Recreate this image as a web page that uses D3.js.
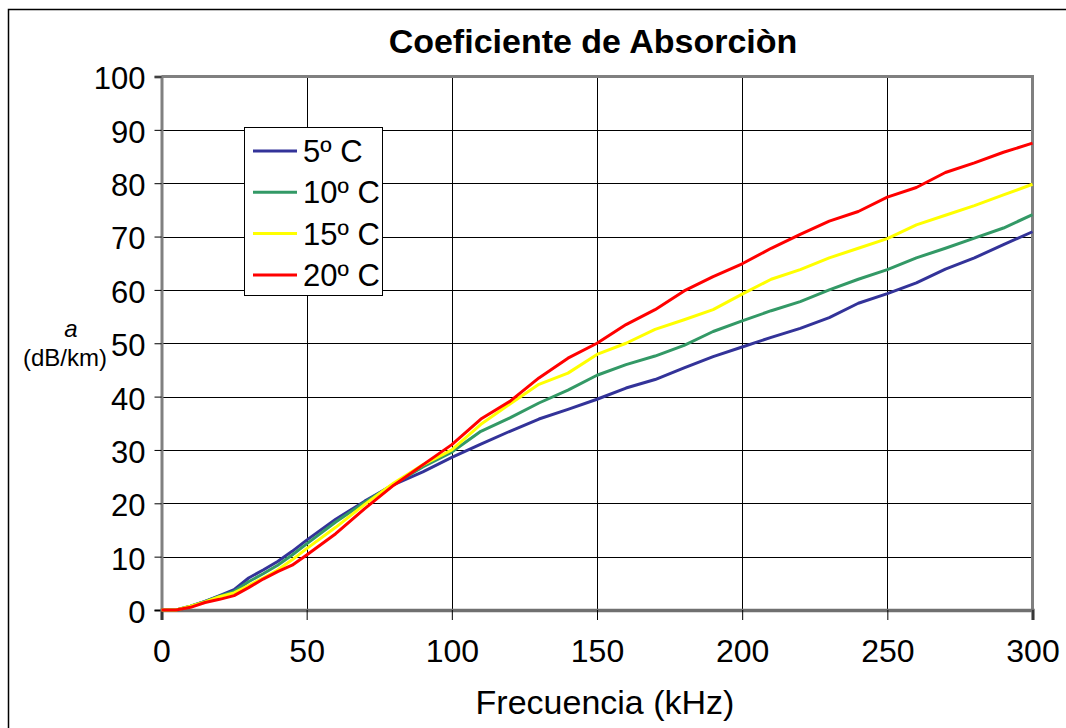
<!DOCTYPE html>
<html><head><meta charset="utf-8">
<script src="https://cdn.jsdelivr.net/npm/d3@7"></script>
<style>body{margin:0;background:#fff}svg{display:block}text{font-family:"Liberation Sans",Arial,sans-serif}</style>
</head><body>
<svg id="c" width="1066" height="728"></svg>
<script>
const freq   = [0,5,10,15,20,25,30,35,40,45,50,60,70,80,90,100,110,120,130,140,150,160,170,180,190,200,210,220,230,240,250,260,270,280,290,300];
const t5C    = [0,0,0.7,1.6,2.7,3.8,6.0,7.5,9.1,11.0,13.1,17.0,20.4,23.5,25.9,28.6,31.1,33.5,35.8,37.6,39.5,41.6,43.2,45.4,47.5,49.3,51.1,52.8,54.8,57.5,59.3,61.3,63.9,66.0,68.5,70.9];
const t10C   = [0,0,0.7,1.6,2.6,3.5,5.3,6.8,8.4,10.3,12.4,16.5,20.2,23.6,26.8,29.6,33.5,36.0,38.8,41.2,44.0,46.0,47.6,49.6,52.2,54.2,56.1,57.8,60.0,62.0,63.8,66.0,67.8,69.7,71.6,74.1];
const t15C   = [0,0,0.7,1.5,2.5,3.2,4.6,6.0,7.5,9.4,11.5,15.5,19.8,23.8,27.2,30.0,34.8,38.6,42.3,44.4,47.9,50.0,52.6,54.4,56.3,59.2,62.0,63.8,66.0,67.8,69.6,72.2,74.0,75.8,77.8,79.8];
const t20C   = [0,0,0.5,1.4,2.0,2.7,4.2,5.8,7.2,8.4,10.3,14.3,19.0,23.4,27.2,31.0,35.8,39.1,43.5,47.2,50.0,53.5,56.3,59.8,62.5,64.9,67.8,70.4,72.9,74.7,77.4,79.2,82.0,83.8,85.8,87.5];
const seriesNames = ["5º C","10º C","15º C","20º C"];
const seriesColors = ["#333399","#339966","#FFFF00","#FF0000"];
const xTicks = [0,50,100,150,200,250,300];
const yTicks = [0,10,20,30,40,50,60,70,80,90,100];

const svg = d3.select("#c");
const X0=161.5, X1=1032.5, Y0=610, Y1=76.5;
const x = d3.scaleLinear().domain([0,300]).range([X0,X1]);
const y = d3.scaleLinear().domain([0,100]).range([Y0,Y1]);

// outer border
svg.append("rect").attr("x",8.5).attr("y",9.5).attr("width",1080).attr("height",740)
  .attr("fill","#fff").attr("stroke","#000").attr("stroke-width",1.5);

// title
svg.append("text").attr("x",593).attr("y",53).attr("text-anchor","middle")
  .attr("font-size",34).attr("font-weight","bold").text("Coeficiente de Absorciòn");

// gridlines
svg.append("g").selectAll("line").data(yTicks.filter(d=>d>0)).join("line")
  .attr("x1",X0).attr("x2",X1).attr("y1",d=>Math.round(y(d))+0.5).attr("y2",d=>Math.round(y(d))+0.5)
  .attr("stroke","#000").attr("stroke-width",1);
svg.append("g").selectAll("line").data(xTicks.filter(d=>d>0&&d<300)).join("line")
  .attr("x1",d=>Math.round(x(d))+0.5).attr("x2",d=>Math.round(x(d))+0.5).attr("y1",Y1).attr("y2",Y0)
  .attr("stroke","#000").attr("stroke-width",1);

// plot border top/right
svg.append("path").attr("d",`M${X0},${Y1}H${X1}V${Y0}`).attr("fill","none")
  .attr("stroke","#808080").attr("stroke-width",3);

// axes
const yAxis = d3.axisLeft(y).tickValues(yTicks).tickSize(7).tickPadding(9);
const gy = svg.append("g").attr("transform",`translate(${X0},0)`).call(yAxis);
gy.select(".domain").attr("stroke","#808080").attr("stroke-width",3);
gy.selectAll(".tick line").attr("stroke","#000");
gy.selectAll(".tick text").attr("font-size",31).attr("fill","#000").attr("dy","0.4em")
  .attr("font-family","Liberation Sans, Arial, sans-serif");

const xAxis = d3.axisBottom(x).tickValues(xTicks).tickSize(10).tickPadding(19);
const gx = svg.append("g").attr("transform",`translate(0,${Y0})`).call(xAxis);
gx.select(".domain").attr("stroke","#707070").attr("stroke-width",3.5);
gx.selectAll(".tick line").attr("stroke","#000");
gx.selectAll(".tick text").attr("font-size",32).attr("fill","#000").attr("font-family","Liberation Sans, Arial, sans-serif");

// axis titles
svg.append("text").attr("x",605).attr("y",714).attr("text-anchor","middle").attr("font-size",34).text("Frecuencia (kHz)");
svg.append("text").attr("x",71).attr("y",337).attr("text-anchor","middle").attr("font-size",24).attr("font-style","italic").text("a");
svg.append("text").attr("x",65).attr("y",366).attr("text-anchor","middle").attr("font-size",24).text("(dB/km)");

// lines
const allSeries = [t5C,t10C,t15C,t20C];
const line = d3.line().x((d,i)=>x(freq[i])).y(d=>y(d));
svg.append("g").selectAll("path").data(allSeries).join("path")
  .attr("d",d=>line(d)).attr("fill","none").attr("stroke",(d,i)=>seriesColors[i])
  .attr("stroke-width",3).attr("stroke-linejoin","round");

// legend
const lg = svg.append("g");
lg.append("rect").attr("x",244.5).attr("y",127.5).attr("width",138).attr("height",168)
  .attr("fill","#fff").attr("stroke","#000").attr("stroke-width",1);
const items = lg.selectAll("g.item").data(seriesNames).join("g").attr("class","item")
  .attr("transform",(d,i)=>`translate(0,${151+i*41.3})`);
items.append("line").attr("x1",253).attr("x2",297).attr("y1",0).attr("y2",0)
  .attr("stroke",(d,i)=>seriesColors[i]).attr("stroke-width",3);
items.append("text").attr("x",303).attr("y",11).attr("font-size",31).text(d=>d);
</script>
</body></html>
